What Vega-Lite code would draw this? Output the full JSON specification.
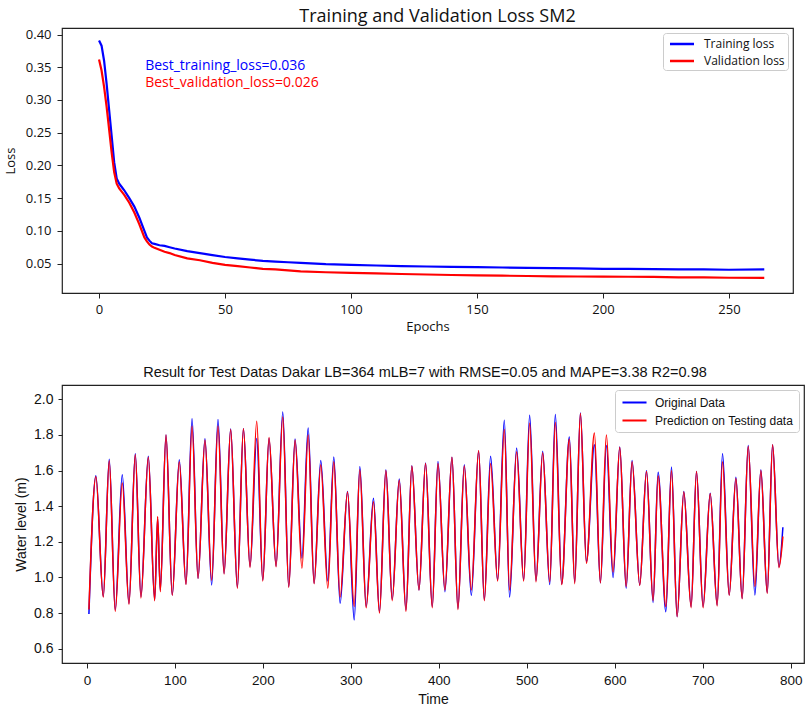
{
  "$schema": "https://vega.github.io/schema/vega-lite/v6.json",
  "background": "white",
  "padding": {"left": 3, "top": 7, "right": 5, "bottom": 0},
  "spacing": 29,
  "resolve": {"scale": {"color": "independent"}, "legend": {"color": "independent"}},
  "config": {
    "view": {"stroke": "#222", "strokeWidth": 1.2},
    "axis": {"domain": false, "grid": false, "tickColor": "#222", "tickSize": 5, "labelColor": "#111", "titleColor": "#111", "titleFontWeight": "normal", "labelPadding": 5, "labelOverlap": false, "tickCount": 30},
    "title": {"color": "#111", "fontWeight": "normal", "anchor": "middle"}
  },
  "datasets": {
    "loss": [
      {"epoch": 0, "train": 0.391, "val": 0.362},
      {"epoch": 1, "train": 0.383, "val": 0.345},
      {"epoch": 2, "train": 0.36, "val": 0.32},
      {"epoch": 3, "train": 0.325, "val": 0.29},
      {"epoch": 4, "train": 0.285, "val": 0.255},
      {"epoch": 5, "train": 0.245, "val": 0.22},
      {"epoch": 6, "train": 0.205, "val": 0.19},
      {"epoch": 7, "train": 0.18, "val": 0.172},
      {"epoch": 8, "train": 0.172, "val": 0.165},
      {"epoch": 9, "train": 0.167, "val": 0.16},
      {"epoch": 10, "train": 0.162, "val": 0.155},
      {"epoch": 12, "train": 0.15, "val": 0.143},
      {"epoch": 14, "train": 0.137, "val": 0.128},
      {"epoch": 16, "train": 0.12, "val": 0.11},
      {"epoch": 18, "train": 0.1, "val": 0.09},
      {"epoch": 19, "train": 0.09, "val": 0.084},
      {"epoch": 20, "train": 0.085, "val": 0.079},
      {"epoch": 21, "train": 0.081, "val": 0.076},
      {"epoch": 22, "train": 0.08, "val": 0.074},
      {"epoch": 24, "train": 0.078, "val": 0.071},
      {"epoch": 26, "train": 0.077, "val": 0.068},
      {"epoch": 28, "train": 0.075, "val": 0.066},
      {"epoch": 30, "train": 0.073, "val": 0.063},
      {"epoch": 35, "train": 0.069, "val": 0.058},
      {"epoch": 40, "train": 0.066, "val": 0.055},
      {"epoch": 45, "train": 0.063, "val": 0.051},
      {"epoch": 50, "train": 0.06, "val": 0.048},
      {"epoch": 55, "train": 0.058, "val": 0.046},
      {"epoch": 60, "train": 0.056, "val": 0.044},
      {"epoch": 65, "train": 0.054, "val": 0.042},
      {"epoch": 70, "train": 0.053, "val": 0.041},
      {"epoch": 75, "train": 0.052, "val": 0.0395},
      {"epoch": 80, "train": 0.051, "val": 0.038},
      {"epoch": 90, "train": 0.049, "val": 0.0367},
      {"epoch": 100, "train": 0.048, "val": 0.0357},
      {"epoch": 110, "train": 0.047, "val": 0.035},
      {"epoch": 120, "train": 0.046, "val": 0.034},
      {"epoch": 130, "train": 0.0455, "val": 0.0333},
      {"epoch": 140, "train": 0.045, "val": 0.0325},
      {"epoch": 150, "train": 0.0445, "val": 0.032},
      {"epoch": 160, "train": 0.044, "val": 0.0315},
      {"epoch": 170, "train": 0.0435, "val": 0.031},
      {"epoch": 180, "train": 0.043, "val": 0.0305},
      {"epoch": 190, "train": 0.0425, "val": 0.0302},
      {"epoch": 200, "train": 0.042, "val": 0.03},
      {"epoch": 210, "train": 0.042, "val": 0.0298},
      {"epoch": 220, "train": 0.0415, "val": 0.0295},
      {"epoch": 230, "train": 0.041, "val": 0.029},
      {"epoch": 240, "train": 0.041, "val": 0.0288},
      {"epoch": 250, "train": 0.0405, "val": 0.0283},
      {"epoch": 264, "train": 0.041, "val": 0.028}
    ],
    "notes": [
      {"epoch": 18.3, "loss": 0.3525, "series": "train", "label": "Best_training_loss=0.036"},
      {"epoch": 18.3, "loss": 0.326, "series": "val", "label": "Best_validation_loss=0.026"}
    ],
    "level": [
      {"t": 2.3, "orig": 0.795, "pred": 0.82},
      {"t": 10.2, "orig": 1.571, "pred": 1.565},
      {"t": 18.6, "orig": 0.893, "pred": 0.89},
      {"t": 25.4, "orig": 1.664, "pred": 1.655},
      {"t": 32.2, "orig": 0.818, "pred": 0.81},
      {"t": 40.2, "orig": 1.577, "pred": 1.53},
      {"t": 47.8, "orig": 0.855, "pred": 0.85},
      {"t": 55, "orig": 1.695, "pred": 1.69},
      {"t": 61.4, "orig": 0.893, "pred": 0.885},
      {"t": 69.8, "orig": 1.68, "pred": 1.675},
      {"t": 77, "orig": 0.874, "pred": 0.87},
      {"t": 80.4, "orig": 1.33, "pred": 1.342},
      {"t": 83.4, "orig": 0.93, "pred": 0.92},
      {"t": 89.9, "orig": 1.8, "pred": 1.8},
      {"t": 97, "orig": 0.902, "pred": 0.9},
      {"t": 105, "orig": 1.661, "pred": 1.65},
      {"t": 112.6, "orig": 0.964, "pred": 0.96},
      {"t": 119.5, "orig": 1.891, "pred": 1.848},
      {"t": 126.3, "orig": 0.995, "pred": 0.995},
      {"t": 134.2, "orig": 1.779, "pred": 1.77},
      {"t": 141.8, "orig": 0.958, "pred": 0.985},
      {"t": 149, "orig": 1.886, "pred": 1.85},
      {"t": 155.9, "orig": 1.024, "pred": 1.02},
      {"t": 163.4, "orig": 1.833, "pred": 1.83},
      {"t": 171, "orig": 0.945, "pred": 0.94},
      {"t": 177.9, "orig": 1.835, "pred": 1.835},
      {"t": 185.4, "orig": 1.061, "pred": 1.055},
      {"t": 193, "orig": 1.78, "pred": 1.876},
      {"t": 199.9, "orig": 0.986, "pred": 0.98},
      {"t": 207, "orig": 1.78, "pred": 1.785},
      {"t": 215, "orig": 1.065, "pred": 1.06},
      {"t": 222.6, "orig": 1.929, "pred": 1.9},
      {"t": 229.4, "orig": 0.949, "pred": 0.945},
      {"t": 236.6, "orig": 1.777, "pred": 1.77},
      {"t": 244.4, "orig": 1.108, "pred": 1.052},
      {"t": 251.5, "orig": 1.839, "pred": 1.8},
      {"t": 258.2, "orig": 0.968, "pred": 0.965},
      {"t": 265.8, "orig": 1.657, "pred": 1.633},
      {"t": 273.8, "orig": 0.98, "pred": 0.94},
      {"t": 280.6, "orig": 1.676, "pred": 1.65},
      {"t": 287.8, "orig": 0.855, "pred": 0.89},
      {"t": 296.2, "orig": 1.483, "pred": 1.48},
      {"t": 303.8, "orig": 0.762, "pred": 0.837},
      {"t": 310.2, "orig": 1.623, "pred": 1.605},
      {"t": 317.4, "orig": 0.837, "pred": 0.83},
      {"t": 325.7, "orig": 1.445, "pred": 1.425},
      {"t": 332.5, "orig": 0.808, "pred": 0.8},
      {"t": 339.8, "orig": 1.605, "pred": 1.6},
      {"t": 347, "orig": 0.877, "pred": 0.87},
      {"t": 355, "orig": 1.552, "pred": 1.545},
      {"t": 362.6, "orig": 0.818, "pred": 0.81},
      {"t": 369.3, "orig": 1.627, "pred": 1.625},
      {"t": 377.4, "orig": 0.93, "pred": 0.93},
      {"t": 384.9, "orig": 1.642, "pred": 1.64},
      {"t": 392.5, "orig": 0.837, "pred": 0.83},
      {"t": 399, "orig": 1.651, "pred": 1.64},
      {"t": 406.9, "orig": 0.92, "pred": 0.93},
      {"t": 414.9, "orig": 1.674, "pred": 1.675},
      {"t": 421.7, "orig": 0.827, "pred": 0.82},
      {"t": 428.9, "orig": 1.633, "pred": 1.625},
      {"t": 436.9, "orig": 0.9, "pred": 0.93},
      {"t": 445.2, "orig": 1.71, "pred": 1.713},
      {"t": 451.7, "orig": 0.874, "pred": 0.87},
      {"t": 458.8, "orig": 1.68, "pred": 1.64},
      {"t": 466.8, "orig": 0.986, "pred": 0.98},
      {"t": 474.4, "orig": 1.882, "pred": 1.83},
      {"t": 480.4, "orig": 0.89, "pred": 0.93},
      {"t": 488.4, "orig": 1.727, "pred": 1.705},
      {"t": 496.4, "orig": 0.986, "pred": 0.98},
      {"t": 503.2, "orig": 1.91, "pred": 1.865},
      {"t": 510.4, "orig": 0.983, "pred": 0.975},
      {"t": 518, "orig": 1.708, "pred": 1.7},
      {"t": 526, "orig": 0.96, "pred": 0.975},
      {"t": 532.4, "orig": 1.914, "pred": 1.87},
      {"t": 539.6, "orig": 0.964, "pred": 0.96},
      {"t": 548.3, "orig": 1.788, "pred": 1.775},
      {"t": 554.4, "orig": 0.973, "pred": 0.965},
      {"t": 560.9, "orig": 1.923, "pred": 1.92},
      {"t": 567.7, "orig": 1.089, "pred": 1.08},
      {"t": 576.8, "orig": 1.745, "pred": 1.81},
      {"t": 583.6, "orig": 0.97, "pred": 0.97},
      {"t": 590.4, "orig": 1.74, "pred": 1.8},
      {"t": 598, "orig": 1.0, "pred": 1.03},
      {"t": 605.6, "orig": 1.732, "pred": 1.73},
      {"t": 612.9, "orig": 0.94, "pred": 0.949},
      {"t": 619.6, "orig": 1.657, "pred": 1.65},
      {"t": 628.3, "orig": 0.958, "pred": 0.955},
      {"t": 636, "orig": 1.6, "pred": 1.595},
      {"t": 643.5, "orig": 0.86, "pred": 0.87},
      {"t": 649.2, "orig": 1.59, "pred": 1.57},
      {"t": 658, "orig": 0.808, "pred": 0.837},
      {"t": 664.4, "orig": 1.62, "pred": 1.6},
      {"t": 670.8, "orig": 0.78, "pred": 0.78},
      {"t": 678.4, "orig": 1.483, "pred": 1.48},
      {"t": 686.7, "orig": 0.837, "pred": 0.83},
      {"t": 692.8, "orig": 1.595, "pred": 1.595},
      {"t": 700.3, "orig": 0.837, "pred": 0.83},
      {"t": 708.4, "orig": 1.473, "pred": 1.47},
      {"t": 716.3, "orig": 0.846, "pred": 0.84},
      {"t": 722.4, "orig": 1.695, "pred": 1.65},
      {"t": 730, "orig": 0.902, "pred": 0.9},
      {"t": 737.6, "orig": 1.563, "pred": 1.555},
      {"t": 744.7, "orig": 0.883, "pred": 0.88},
      {"t": 751.6, "orig": 1.741, "pred": 1.735},
      {"t": 759.2, "orig": 0.902, "pred": 0.95},
      {"t": 766, "orig": 1.605, "pred": 1.6},
      {"t": 773.2, "orig": 0.915, "pred": 0.91},
      {"t": 779.3, "orig": 1.745, "pred": 1.745},
      {"t": 786.5, "orig": 1.06, "pred": 1.055},
      {"t": 791, "orig": 1.282, "pred": 1.23}
    ]
  },
  "vconcat": [
    {
      "title": {"text": "Training and Validation Loss SM2", "fontSize": 18, "font": "Open Sans", "offset": 2, "dx": 10, "frame": "group"},
      "width": 731,
      "height": 265,
      "layer": [
        {
          "data": {"name": "loss"},
          "transform": [{"fold": ["train", "val"], "as": ["series", "loss"]}],
          "mark": {"type": "line", "strokeWidth": 2.2, "clip": true},
          "encoding": {
            "x": {"field": "epoch", "type": "quantitative", "scale": {"domain": [-14.7, 275.4], "nice": false, "zero": false},
                  "axis": {"values": [0, 50, 100, 150, 200, 250], "title": "Epochs", "labelFont": "Open Sans", "titleFont": "Open Sans", "labelFontSize": 13, "titleFontSize": 13, "titlePadding": 4}},
            "y": {"field": "loss", "type": "quantitative", "scale": {"domain": [0.005, 0.41], "nice": false, "zero": false},
                  "axis": {"values": [0.05, 0.1, 0.15, 0.2, 0.25, 0.3, 0.35, 0.4], "format": ".2f", "title": "Loss", "labelFont": "Open Sans", "titleFont": "Open Sans", "labelFontSize": 13, "titleFontSize": 13, "labelPadding": 6, "minExtent": 38, "maxExtent": 38, "titlePadding": 7}},
            "color": {"field": "series", "type": "nominal", "scale": {"domain": ["train", "val"], "range": ["#0000ff", "#ff0000"]},
                      "legend": {"title": null, "orient": "top-right", "offset": 5, "labelExpr": "datum.value == 'train' ? 'Training loss' : 'Validation loss'",
                                 "symbolType": "M-1.85,0H1.85", "symbolStrokeWidth": 2.5, "symbolSize": 169, "symbolOffset": 8, "labelOffset": 14,
                                 "labelFont": "Open Sans", "labelFontSize": 12, "labelColor": "#111",
                                 "strokeColor": "#ccc", "fillColor": "white", "padding": 3, "cornerRadius": 3, "rowPadding": 3}}
          }
        },
        {
          "data": {"name": "notes"},
          "transform": [{"filter": "datum.series == 'train'"}],
          "mark": {"type": "text", "align": "left", "baseline": "middle", "fontSize": 14, "font": "Open Sans", "color": "#0000ff"},
          "encoding": {"x": {"field": "epoch", "type": "quantitative"}, "y": {"field": "loss", "type": "quantitative"}, "text": {"field": "label"}}
        },
        {
          "data": {"name": "notes"},
          "transform": [{"filter": "datum.series == 'val'"}],
          "mark": {"type": "text", "align": "left", "baseline": "middle", "fontSize": 14, "font": "Open Sans", "color": "#ff0000"},
          "encoding": {"x": {"field": "epoch", "type": "quantitative"}, "y": {"field": "loss", "type": "quantitative"}, "text": {"field": "label"}}
        }
      ]
    },
    {
      "title": {"text": "Result for Test Datas Dakar  LB=364 mLB=7 with RMSE=0.05 and MAPE=3.38 R2=0.98", "fontSize": 14.5, "font": "Liberation Sans", "offset": 5, "frame": "group", "dx": -8},
      "width": 742,
      "height": 278,
      "data": {"name": "level"},
      "transform": [{"fold": ["orig", "pred"], "as": ["series", "value"]}],
      "mark": {"type": "line", "strokeWidth": 1.5, "interpolate": "monotone", "clip": true},
      "encoding": {
        "x": {"field": "t", "type": "quantitative", "scale": {"domain": [-28.3, 815], "nice": false, "zero": false},
              "axis": {"values": [0, 100, 200, 300, 400, 500, 600, 700, 800], "title": "Time", "labelFont": "Liberation Sans", "titleFont": "Liberation Sans", "labelFontSize": 13.5, "titleFontSize": 14, "labelPadding": 5, "titlePadding": 6}},
        "y": {"field": "value", "type": "quantitative", "scale": {"domain": [0.52, 2.08], "nice": false, "zero": false},
              "axis": {"values": [0.6, 0.8, 1.0, 1.2, 1.4, 1.6, 1.8, 2.0], "format": ".1f", "title": "Water level (m)", "labelFont": "Liberation Sans", "titleFont": "Liberation Sans", "labelFontSize": 14, "titleFontSize": 14, "tickSize": 4, "labelPadding": 5, "minExtent": 29, "maxExtent": 29, "titlePadding": 5}},
        "color": {"field": "series", "type": "nominal", "scale": {"domain": ["orig", "pred"], "range": ["#0000ff", "#ff0000"]},
                  "legend": {"title": null, "orient": "top-right", "offset": 5, "labelExpr": "datum.value == 'orig' ? 'Original Data' : 'Prediction on Testing data'",
                             "symbolType": "M-1.85,0H1.85", "symbolStrokeWidth": 2, "symbolSize": 169, "symbolOffset": 7, "labelOffset": 13,
                             "labelFont": "Liberation Sans", "labelFontSize": 12, "labelColor": "#111",
                             "strokeColor": "#ccc", "fillColor": "white", "padding": 5, "cornerRadius": 3, "rowPadding": 4}}
      }
    }
  ]
}
